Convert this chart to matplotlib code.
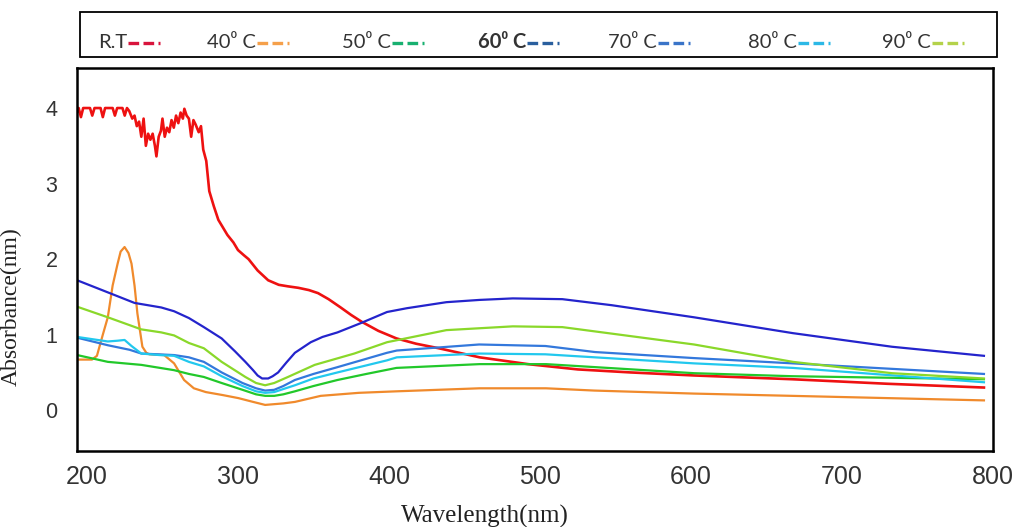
import matplotlib
matplotlib.use("Agg")
import matplotlib.pyplot as plt
from matplotlib.lines import Line2D
from matplotlib.patches import Rectangle

# UV-Vis spectra read at each annealing temperature
rt_nm = [193.5, 194.5, 196, 197.5, 202, 203.5, 205, 209, 210.5, 212, 217, 218.5, 220,
         223.5, 225, 226.5, 228, 230, 231.5, 233, 234.5, 236, 237.5, 239, 240.5, 242,
         243.5, 245, 246, 247.5, 249, 250, 251.5, 253, 254.5, 256, 257.5, 259, 260.5,
         262, 263.5, 264.5, 266, 267.5, 269, 270.5, 272, 274, 275.5, 277, 279, 281,
         284, 287, 290, 293, 297, 300, 304, 307, 313, 320, 327, 333, 340, 347, 353,
         360, 368, 375, 382, 393, 405, 418, 433, 460, 492, 525, 560, 602, 667, 730, 794]
rt_abs = [3.95, 4.0, 3.88, 4.0, 4.0, 3.9, 4.0, 4.0, 3.88, 4.0, 4.0, 3.9, 4.0,
          4.0, 3.9, 4.0, 3.96, 3.86, 3.9, 3.76, 3.82, 3.62, 3.86, 3.5, 3.66, 3.58,
          3.66, 3.5, 3.36, 3.62, 3.7, 3.86, 3.62, 3.74, 3.68, 3.84, 3.74, 3.9, 3.8,
          3.94, 3.86, 3.99, 3.9, 3.86, 3.62, 3.84, 3.78, 3.68, 3.76, 3.45, 3.3, 2.9,
          2.7, 2.52, 2.42, 2.32, 2.22, 2.12, 2.05, 2.0, 1.85, 1.72, 1.66, 1.64, 1.62, 1.59, 1.55,
          1.47, 1.36, 1.26, 1.17, 1.05, 0.95, 0.88, 0.82, 0.70, 0.61, 0.54, 0.50, 0.46, 0.41, 0.35, 0.30]

t40_nm = [193.5, 203.3, 206.6, 210.5, 213.8, 217, 220.3, 222.3, 224.9, 227.5, 229.5,
          231.5, 233.4, 236.7, 239.3, 241.3, 251.1, 257.7, 264.3, 270.8, 278.7, 290,
          300.3, 310, 318, 330, 337.7, 354.8, 380, 405, 460, 504, 536, 602, 667, 794]
t40_abs = [0.67, 0.67, 0.72, 1.0, 1.23, 1.65, 1.94, 2.10, 2.16, 2.08, 1.94,
           1.65, 1.28, 0.84, 0.76, 0.74, 0.73, 0.62, 0.40, 0.29, 0.24, 0.20,
           0.16, 0.11, 0.07, 0.09, 0.11, 0.19, 0.23, 0.25, 0.29, 0.29, 0.26, 0.22, 0.19, 0.13]

t50_nm = [193.5, 213.8, 236, 257.7, 267.5, 277.4, 289.2, 303, 312, 318, 324, 330,
          337.7, 350, 365.9, 385, 405, 460, 504, 602, 667, 794]
t50_abs = [0.73, 0.64, 0.60, 0.53, 0.48, 0.44, 0.36, 0.27, 0.21, 0.19, 0.19, 0.21,
           0.25, 0.32, 0.40, 0.48, 0.56, 0.61, 0.61, 0.49, 0.45, 0.41]

t60_nm = [193.5, 213.8, 231.5, 249.2, 257.7, 267.5, 277.4, 289.2, 298, 304.9, 310,
          313, 316, 320, 323, 326.6, 332, 337.7, 348.2, 356, 365.9, 381, 398.7, 411.8, 438,
          460, 482, 514.8, 547.5, 602, 667.5, 733.1, 794]
t60_abs = [1.72, 1.56, 1.42, 1.36, 1.31, 1.22, 1.10, 0.95, 0.78, 0.64, 0.53,
           0.46, 0.42, 0.42, 0.45, 0.50, 0.63, 0.76, 0.90, 0.97, 1.03, 1.15, 1.30, 1.35, 1.43,
           1.46, 1.48, 1.47, 1.39, 1.23, 1.02, 0.84, 0.72]

t70_nm = [193.5, 213.8, 228.2, 236, 257.7, 267.5, 277.4, 289.2, 303, 312, 318, 324,
          330, 337.7, 350, 365.9, 398.7, 405.2, 459.7, 503.6, 536.4, 602, 667.5, 794]
t70_abs = [0.96, 0.86, 0.80, 0.75, 0.73, 0.70, 0.64, 0.50, 0.36, 0.29, 0.26, 0.27,
           0.32, 0.40, 0.48, 0.57, 0.76, 0.79, 0.87, 0.85, 0.77, 0.69, 0.62, 0.48]

t80_nm = [193.5, 213.8, 220.3, 224.9, 229.5, 236, 247.9, 257.7, 267.5, 277.4, 289.2,
          303, 312, 318, 324, 330, 337.7, 350, 365.9, 398.7, 405.2, 459.7, 503.6, 602, 667.5, 794]
t80_abs = [0.97, 0.91, 0.92, 0.93, 0.85, 0.75, 0.73, 0.72, 0.64, 0.58, 0.45,
           0.32, 0.25, 0.23, 0.24, 0.28, 0.33, 0.42, 0.50, 0.66, 0.70, 0.75, 0.74, 0.62, 0.56, 0.37]

t90_nm = [193.5, 213.8, 236, 249.2, 257.7, 267.5, 277.4, 289.2, 304.9, 312, 318, 324,
          333.1, 350.8, 377, 398.7, 438, 482, 514.8, 602, 667.5, 733.1, 794]
t90_abs = [1.37, 1.23, 1.07, 1.03, 0.99, 0.89, 0.82, 0.64, 0.44, 0.36, 0.33, 0.36,
           0.44, 0.60, 0.75, 0.90, 1.06, 1.11, 1.10, 0.87, 0.64, 0.49, 0.42]

series = [
    (rt_nm, rt_abs, "#ee1111", 1.9),
    (t40_nm, t40_abs, "#f08a2c", 1.6),
    (t50_nm, t50_abs, "#22c82a", 1.6),
    (t70_nm, t70_abs, "#3378dc", 1.6),
    (t80_nm, t80_abs, "#22c8ee", 1.6),
    (t90_nm, t90_abs, "#8ad82a", 1.6),
    (t60_nm, t60_abs, "#2424cc", 1.6),
]

legend_labels = ["R.T", "40⁰ C", "50⁰ C", "60⁰ C", "70⁰ C", "80⁰ C", "90⁰ C"]
legend_colors = ["#d8143c", "#f5a04a", "#18b070", "#2a5f9e", "#3a74c8", "#2cb8e6", "#b4d24a"]
legend_x = [98, 207, 342, 478, 608, 748, 882]

x_ticks = [200, 300, 400, 500, 600, 700, 800]
y_ticks = [0, 1, 2, 3, 4]

W, H = 1031, 527
fig = plt.figure(figsize=(W / 100, H / 100), dpi=100)
ax = fig.add_axes([77 / W, 1 - 451 / H, 916 / W, 383 / H])

for xs, ys, c, lw in series:
    ax.plot(xs, ys, color=c, lw=lw, solid_joinstyle="round")

ax.set_xlim(193.4, 794)
ax.set_ylim(-0.54, 4.53)
ax.set_xticks(x_ticks)
ax.set_yticks(y_ticks)
ax.tick_params(axis="both", length=0, colors="#333333")
ax.tick_params(axis="x", labelsize=18, pad=10)
ax.tick_params(axis="y", labelsize=15.5, pad=14)
for lab in ax.get_xticklabels() + ax.get_yticklabels():
    lab.set_fontfamily("Liberation Sans")
for sp in ax.spines.values():
    sp.set_linewidth(1.8)
    sp.set_color("black")

ax.set_xlabel("Wavelength(nm)", family="Liberation Serif", fontsize=18, color="#222222")
ax.xaxis.set_label_coords(0.445, -0.14)
ax.set_ylabel("Absorbance(nm)", family="Liberation Serif", fontsize=17, color="#222222")
ax.yaxis.set_label_coords(-0.06, 0.376)

# legend strip above the axes, drawn by hand
fig.add_artist(Rectangle((80 / W, 1 - 57 / H), 917 / W, 45 / H, transform=fig.transFigure,
                         fill=False, edgecolor="black", lw=1.3))
texts = []
for lab, x in zip(legend_labels, legend_x):
    t = fig.text(x / W, 1 - 48 / H, lab, fontsize=14.5, color="#333333",
                 family=["Lato", "DejaVu Sans"], ha="left", va="baseline",
                 fontweight="bold" if lab.startswith("60") else "normal")
    texts.append(t)

fig.canvas.draw()
renderer = fig.canvas.get_renderer()
for t, c in zip(texts, legend_colors):
    bb = t.get_window_extent(renderer)
    x0 = bb.x1 + 1
    fig.add_artist(Line2D([x0 / W, (x0 + 32) / W], [1 - 42.5 / H, 1 - 42.5 / H],
                          transform=fig.transFigure, color=c, lw=2.4,
                          linestyle=(0, (3.2, 1.3))))

fig.savefig("out.png", dpi=100)
